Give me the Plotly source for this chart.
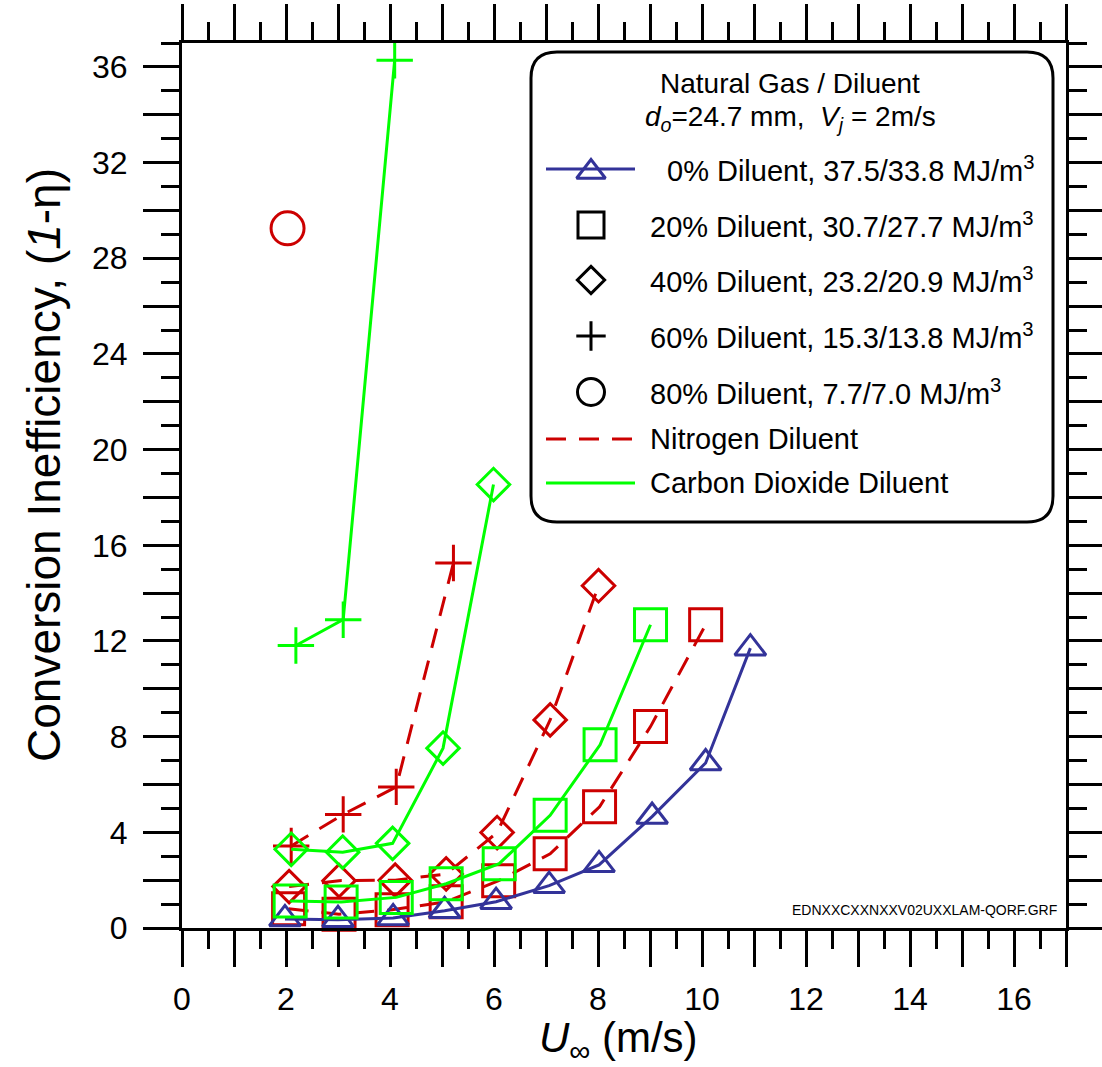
import plotly.graph_objects as go

# ---------------- data ----------------
u_0 = [1.98, 3.0, 4.06, 5.05, 6.04, 7.06, 8.02, 9.04, 10.07, 10.93]
eta_0 = [0.38, 0.35, 0.42, 0.72, 1.1, 1.77, 2.64, 4.66, 6.9, 11.7]

u_n2_20 = [2.05, 3.02, 4.04, 5.08, 6.09, 7.08, 8.03, 9.01, 10.07]
eta_n2_20 = [0.8, 0.58, 0.76, 1.1, 1.98, 3.1, 5.07, 8.42, 12.68]

u_n2_40 = [2.06, 3.02, 4.1, 5.08, 6.06, 7.08, 8.01]
eta_n2_40 = [1.73, 1.98, 2.0, 2.26, 3.99, 8.7, 14.31]

u_n2_60 = [2.1, 3.1, 4.12, 5.22]
eta_n2_60 = [3.43, 4.75, 5.9, 15.26]

u_n2_80 = [2.03]
eta_n2_80 = [29.25]

u_co2_20 = [2.08, 3.06, 4.12, 5.08, 6.1, 7.08, 8.04, 9.01]
eta_co2_20 = [1.13, 1.09, 1.28, 1.85, 2.69, 4.71, 7.66, 12.68]

u_co2_40 = [2.1, 3.09, 4.05, 5.02, 5.99]
eta_co2_40 = [3.29, 3.17, 3.54, 7.52, 18.54]

u_co2_60 = [2.19, 3.1, 4.09]
eta_co2_60 = [11.81, 12.89, 36.28]

x_tick_vals = list(range(0, 18))
x_tick_text = [str(v) if (v % 2 == 0 and v <= 16) else "" for v in x_tick_vals]
y_tick_vals = list(range(0, 38, 2))
y_tick_text = [str(v) if v % 4 == 0 else "" for v in y_tick_vals]

legend_labels = [
    "0% Diluent, 37.5/33.8 MJ/m<sup>3</sup>",
    "20% Diluent, 30.7/27.7 MJ/m<sup>3</sup>",
    "40% Diluent, 23.2/20.9 MJ/m<sup>3</sup>",
    "60% Diluent, 15.3/13.8 MJ/m<sup>3</sup>",
    "80% Diluent, 7.7/7.0 MJ/m<sup>3</sup>",
    "Nitrogen Diluent",
    "Carbon Dioxide Diluent",
]

# ---------------- styles ----------------
FONT = "Liberation Sans, Arial, sans-serif"
BLUE = "rgb(51,51,153)"
RED = "rgb(204,0,0)"
GREEN = "rgb(0,255,0)"
DASH = "20px,13px"

fig = go.Figure()


def add_series(x, y, color, symbol, size, dash=None, mode="lines+markers"):
    fig.add_trace(go.Scatter(
        x=x, y=y, mode=mode, cliponaxis=False, showlegend=False,
        line=dict(color=color, width=3, dash=dash),
        marker=dict(symbol=symbol, size=size, color=color,
                    line=dict(color=color, width=3)),
    ))


# nitrogen (red dashed)
add_series(u_n2_20, eta_n2_20, RED, "square-open", 32, DASH)
add_series(u_n2_40, eta_n2_40, RED, "diamond-open", 25, DASH)
add_series(u_n2_60, eta_n2_60, RED, "cross-thin-open", 26, DASH)
add_series(u_n2_80, eta_n2_80, RED, "circle-open", 33, DASH, mode="markers")
# no diluent (blue)
add_series(u_0, eta_0, BLUE, "triangle-up-open", 27)
# carbon dioxide (green solid)
add_series(u_co2_20, eta_co2_20, GREEN, "square-open", 32)
add_series(u_co2_40, eta_co2_40, GREEN, "diamond-open", 25)
add_series(u_co2_60, eta_co2_60, GREEN, "cross-thin-open", 26)

# ---------------- hand-built legend (pixel coordinate overlay axes) ----------------
W, H = 1102, 1067
L, R, T, B = 182, 1066, 43, 928
box_l, box_r, box_t, box_b, rad = 531, 1053, 52, 522, 26
key_x0, key_x1, key_xm = 546, 635, 591
row_y = [169, 225, 280, 336, 392, 439, 483]


def px(p):
    return (p - L) / (R - L)


def py(p):
    return (B - p) / (B - T)


fig.add_trace(go.Scatter(x=[key_x0, key_x1], y=[row_y[0]] * 2, mode="lines",
                         line=dict(color=BLUE, width=3), xaxis="x3", yaxis="y3",
                         showlegend=False, hoverinfo="skip", cliponaxis=False))
fig.add_trace(go.Scatter(x=[key_xm], y=[row_y[0] + 3], mode="markers",
                         marker=dict(symbol="triangle-up-open", size=25, color=BLUE,
                                     line=dict(color=BLUE, width=3)),
                         xaxis="x3", yaxis="y3", showlegend=False, hoverinfo="skip",
                         cliponaxis=False))
for sym, sz, yy in [("square-open", 26, row_y[1]), ("diamond-open", 21, row_y[2]),
                    ("cross-thin-open", 21, row_y[3]), ("circle-open", 27, row_y[4])]:
    fig.add_trace(go.Scatter(x=[key_xm], y=[yy], mode="markers",
                             marker=dict(symbol=sym, size=sz, color="black",
                                         line=dict(color="black", width=3)),
                             xaxis="x3", yaxis="y3", showlegend=False,
                             hoverinfo="skip", cliponaxis=False))
fig.add_trace(go.Scatter(x=[key_x0, key_x1], y=[row_y[5]] * 2, mode="lines",
                         line=dict(color=RED, width=3, dash=DASH), xaxis="x3", yaxis="y3",
                         showlegend=False, hoverinfo="skip", cliponaxis=False))
fig.add_trace(go.Scatter(x=[key_x0, key_x1], y=[row_y[6]] * 2, mode="lines",
                         line=dict(color=GREEN, width=3), xaxis="x3", yaxis="y3",
                         showlegend=False, hoverinfo="skip", cliponaxis=False))

path = (f"M{box_l + rad},{box_t} L{box_r - rad},{box_t} Q{box_r},{box_t} {box_r},{box_t + rad} "
        f"L{box_r},{box_b - rad} Q{box_r},{box_b} {box_r - rad},{box_b} "
        f"L{box_l + rad},{box_b} Q{box_l},{box_b} {box_l},{box_b - rad} "
        f"L{box_l},{box_t + rad} Q{box_l},{box_t} {box_l + rad},{box_t} Z")
fig.add_shape(type="path", path=path, xref="x3", yref="y3",
              line=dict(color="black", width=3), fillcolor="white", layer="below")

LEG_FS = 29
ann = []
ann.append(dict(x=790, y=83, text="Natural Gas / Diluent", xref="x3", yref="y3",
                showarrow=False, xanchor="center", yanchor="middle",
                font=dict(size=LEG_FS - 1, family=FONT, color="black")))
ann.append(dict(x=790, y=118,
                text="<i>d</i><sub><i>o</i></sub>=24.7 mm,  <i>V</i><sub><i>j</i></sub> = 2m/s",
                xref="x3", yref="y3", showarrow=False, xanchor="center", yanchor="middle",
                font=dict(size=LEG_FS - 1, family=FONT, color="black")))
for i, (lab, yy) in enumerate(zip(legend_labels, row_y)):
    ann.append(dict(x=665 if i == 0 else 648, y=yy, text=lab, xref="x3", yref="y3",
                    showarrow=False, xanchor="left", yanchor="middle",
                    font=dict(size=LEG_FS, family=FONT, color="black")))

# axis titles and file tag (paper coordinates)
ann.append(dict(x=px(44), y=py(465), text="Conversion Inefficiency, (<i>1</i>-η)",
                textangle=-90, xref="paper", yref="paper", showarrow=False,
                xanchor="center", yanchor="middle",
                font=dict(size=46, family=FONT, color="black")))
ann.append(dict(x=px(618), y=py(1040), text="<i>U</i><sub>∞</sub> (m/s)",
                xref="paper", yref="paper", showarrow=False, xanchor="center",
                yanchor="middle", font=dict(size=42, family=FONT, color="black")))
ann.append(dict(x=px(1059), y=py(910), text="EDNXXCXXNXXV02UXXLAM-QORF.GRF",
                xref="paper", yref="paper", showarrow=False, xanchor="right",
                yanchor="middle", font=dict(size=14, family=FONT, color="black")))

axis_common = dict(showgrid=False, zeroline=False, showline=True, linecolor="black",
                   linewidth=3, ticks="outside", ticklen=36, tickwidth=3, tickcolor="black",
                   mirror="ticks", automargin=False,
                   tickfont=dict(size=32, family=FONT, color="black"))

fig.update_layout(
    width=W, height=H,
    margin=dict(l=L, r=W - R, t=T, b=H - B, pad=0, autoexpand=False),
    paper_bgcolor="white", plot_bgcolor="white",
    showlegend=False,
    font=dict(family=FONT, color="black"),
    xaxis=dict(range=[0, 17], tickmode="array", tickvals=x_tick_vals, ticktext=x_tick_text,
               ticklabelstandoff=5,
               minor=dict(tickmode="linear", tick0=0, dtick=0.5, ticklen=18, tickwidth=3,
                          tickcolor="black", ticks="outside"),
               **axis_common),
    yaxis=dict(range=[0, 37], tickmode="array", tickvals=y_tick_vals, ticktext=y_tick_text,
               ticklabelstandoff=9,
               minor=dict(tickmode="linear", tick0=0, dtick=1, ticklen=18, tickwidth=3,
                          tickcolor="black", ticks="outside"),
               **axis_common),
    xaxis3=dict(range=[L, R], overlaying="x", anchor="y3", visible=False, fixedrange=True,
                automargin=False),
    yaxis3=dict(range=[B, T], overlaying="y", anchor="x3", visible=False, fixedrange=True,
                automargin=False),
    annotations=ann,
)

fig.write_html("out.html")
